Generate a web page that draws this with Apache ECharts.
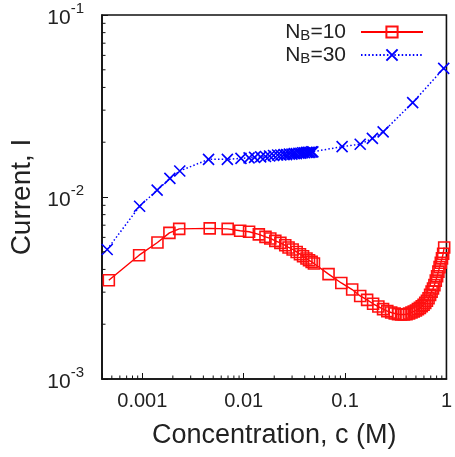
<!DOCTYPE html>
<html>
<head>
<meta charset="utf-8">
<script src="https://cdn.jsdelivr.net/npm/echarts@6/dist/echarts.min.js"></script>
<style>
  html, body { margin: 0; padding: 0; background: #fff; }
  #chart { width: 455px; height: 457px; }
</style>
</head>
<body>
<div id="chart"></div>
<script>
// Current vs. salt concentration for two chain lengths (log-log)
const concB10 = [0.000467, 0.00093, 0.00141, 0.00185, 0.00231, 0.00462, 0.00695, 0.00923,
  0.0113, 0.0141, 0.0164, 0.0183, 0.0205, 0.023, 0.0257, 0.0277, 0.0304, 0.0333, 0.0359,
  0.0385, 0.0416, 0.0441, 0.0468, 0.0493, 0.0687, 0.0918, 0.1175, 0.141, 0.165, 0.189,
  0.213, 0.237, 0.261, 0.285, 0.309, 0.333, 0.357, 0.381, 0.404, 0.428, 0.452, 0.476,
  0.5, 0.523, 0.547, 0.571, 0.595, 0.618, 0.642, 0.666, 0.69, 0.714, 0.737, 0.761,
  0.785, 0.809, 0.833, 0.856, 0.88, 0.904, 0.928, 0.95];
const currentB10 = [0.00349, 0.00479, 0.00562, 0.00635, 0.00668, 0.00672, 0.00668, 0.00652,
  0.00644, 0.00623, 0.00604, 0.00592, 0.00574, 0.0056, 0.00543, 0.00528, 0.00515, 0.00499, 0.00485,
  0.00473, 0.00459, 0.00449, 0.0044, 0.00431, 0.00377, 0.00337, 0.0031, 0.00286, 0.00272, 0.00259,
  0.0025, 0.00242, 0.00236, 0.00232, 0.00229, 0.00227, 0.00226, 0.00226, 0.00227, 0.00229, 0.00232, 0.00235,
  0.00238, 0.00242, 0.00246, 0.00251, 0.00256, 0.00262, 0.00269, 0.00278, 0.0029, 0.00302, 0.00314, 0.00328,
  0.00347, 0.00367, 0.00389, 0.00412, 0.00435, 0.0046, 0.00488, 0.00528];

const concB30 = [0.00045, 0.00094, 0.0014, 0.00187, 0.00234, 0.0045, 0.0069,
  0.0094, 0.0113, 0.0128, 0.0147, 0.0164, 0.018, 0.0197, 0.0216, 0.0232, 0.025, 0.0265,
  0.0282, 0.0299, 0.0315, 0.0331, 0.035, 0.0366, 0.0382, 0.040, 0.0418, 0.0433, 0.045,
  0.0468, 0.0481, 0.0935, 0.141, 0.186, 0.2375, 0.4645, 0.94];
const currentB30 = [0.00515, 0.0089, 0.0109, 0.01265, 0.0139, 0.0161, 0.0161,
  0.0163, 0.0164, 0.0165, 0.0166, 0.0167, 0.0168, 0.0169, 0.0170, 0.0170, 0.0171, 0.0171,
  0.0172, 0.0172, 0.0173, 0.0173, 0.0174, 0.0174, 0.0175, 0.0175, 0.0176, 0.0176, 0.0176,
  0.0177, 0.0177, 0.0189, 0.0195, 0.0210, 0.0228, 0.033, 0.0509];

const seriesNames = ['N_B=10', 'N_B=30'];
const xTickExps = [-3, -2, -1, 0];
const xTickLabels = ['0.001', '0.01', '0.1', '1'];
const yTickExps = [-3, -2, -1];
const minorMultipliers = [2, 3, 4, 5, 6, 7, 8, 9];
const xRange = [0.0004, 1];
const yRange = [0.001, 0.1];

const FONT = '"Liberation Sans", Arial, Helvetica, sans-serif';
const TEXT = '#222';

function zip(a, b) { return a.map((v, i) => [v, b[i]]); }
function exponentOf(v) {
  const l = Math.log10(v);
  const e = Math.round(l);
  return Math.abs(l - e) < 1e-6 ? e : null;
}

// minor tick values inside each decade
const xMinor = [];
for (let e = -4; e < 0; e++) {
  minorMultipliers.forEach(m => {
    const v = m * Math.pow(10, e);
    if (v > xRange[0] * 1.01 && v < xRange[1]) xMinor.push(v);
  });
}
const yMinor = [];
for (let e = -3; e < -1; e++) {
  minorMultipliers.forEach(m => yMinor.push(m * Math.pow(10, e)));
}

const chart = echarts.init(document.getElementById('chart'), null, { renderer: 'canvas' });

chart.setOption({
  animation: false,
  backgroundColor: '#fff',
  textStyle: { fontFamily: FONT, color: TEXT },
  grid: {
    left: 100, right: 4, top: 15, bottom: 78,
    show: true, borderColor: '#111', borderWidth: 1.6, backgroundColor: 'transparent'
  },
  legend: {
    data: seriesNames,
    orient: 'vertical',
    right: 26,
    top: 16,
    align: 'right',
    itemWidth: 62,
    itemHeight: 14,
    itemGap: 1,
    selectedMode: false,
    formatter: name => name.replace('_B', '{sub|B}'),
    textStyle: {
      fontFamily: FONT, fontSize: 21, color: TEXT, lineHeight: 22,
      padding: [0, 10, 0, 0],
      rich: { sub: { fontFamily: FONT, fontSize: 15, color: TEXT, lineHeight: 5, verticalAlign: 'bottom' } }
    }
  },
  xAxis: {
    type: 'log',
    logBase: 10,
    min: xRange[0],
    max: xRange[1],
    name: 'Concentration, c (M)',
    nameLocation: 'middle',
    nameGap: 43,
    nameTextStyle: { fontFamily: FONT, fontSize: 27, color: TEXT },
    axisLine: { lineStyle: { color: '#111', width: 1.6 } },
    axisTick: { inside: true, length: 6, lineStyle: { color: '#111', width: 1 } },
    axisLabel: {
      fontFamily: FONT, fontSize: 20, color: TEXT, margin: 12,
      formatter: v => {
        const e = exponentOf(v);
        const i = xTickExps.indexOf(e);
        return i < 0 ? '' : xTickLabels[i];
      }
    },
    splitLine: { show: false }
  },
  yAxis: {
    type: 'log',
    logBase: 10,
    min: yRange[0],
    max: yRange[1],
    name: 'Current, I',
    nameLocation: 'middle',
    nameGap: 66,
    nameRotate: 90,
    nameTextStyle: { fontFamily: FONT, fontSize: 28, color: TEXT },
    axisLine: { lineStyle: { color: '#111', width: 1.6 } },
    axisTick: { inside: true, length: 6, lineStyle: { color: '#111', width: 1 } },
    axisLabel: {
      margin: 18,
      formatter: v => {
        const e = exponentOf(v);
        return yTickExps.indexOf(e) < 0 ? '' : '{b|10}{s|' + e + '}';
      },
      rich: {
        b: { fontFamily: FONT, fontSize: 21, color: TEXT, lineHeight: 20, verticalAlign: 'bottom' },
        s: { fontFamily: FONT, fontSize: 15, color: TEXT, lineHeight: 28, verticalAlign: 'top' }
      }
    },
    splitLine: { show: false }
  },
  series: [
    {
      name: seriesNames[0],
      type: 'line',
      data: zip(concB10, currentB10),
      symbol: 'rect',
      symbolSize: 11,
      lineStyle: { color: '#ff0000', width: 1.4 },
      itemStyle: { color: 'rgba(255,0,0,0)', borderColor: '#ff1010', borderWidth: 1.6 },
      z: 3
    },
    {
      name: seriesNames[1],
      type: 'line',
      data: zip(concB30, currentB30),
      symbol: 'path://M0,0L10,10M10,0L0,10',
      symbolSize: 11,
      symbolKeepAspect: true,
      lineStyle: { color: '#0000ff', width: 1.5, type: [1.5, 2.2] },
      itemStyle: { color: 'rgba(0,0,255,0)', borderColor: '#0000ff', borderWidth: 1.6 },
      z: 4
    }
  ]
});

// minor ticks on the log axes, placed through the axes' own scales
const minorLen = 3.5;
const tickStyle = { stroke: '#111', lineWidth: 1 };
const minorTicks = [];
xMinor.forEach(v => {
  const p = chart.convertToPixel({ gridIndex: 0 }, [v, yRange[0]]);
  minorTicks.push({ type: 'line', silent: true, z: 10,
    shape: { x1: p[0], y1: p[1], x2: p[0], y2: p[1] - minorLen }, style: tickStyle });
});
yMinor.forEach(v => {
  const p = chart.convertToPixel({ gridIndex: 0 }, [xRange[0], v]);
  minorTicks.push({ type: 'line', silent: true, z: 10,
    shape: { x1: p[0], y1: p[1], x2: p[0] + minorLen, y2: p[1] }, style: tickStyle });
});
chart.setOption({ graphic: minorTicks });
</script>
</body>
</html>
